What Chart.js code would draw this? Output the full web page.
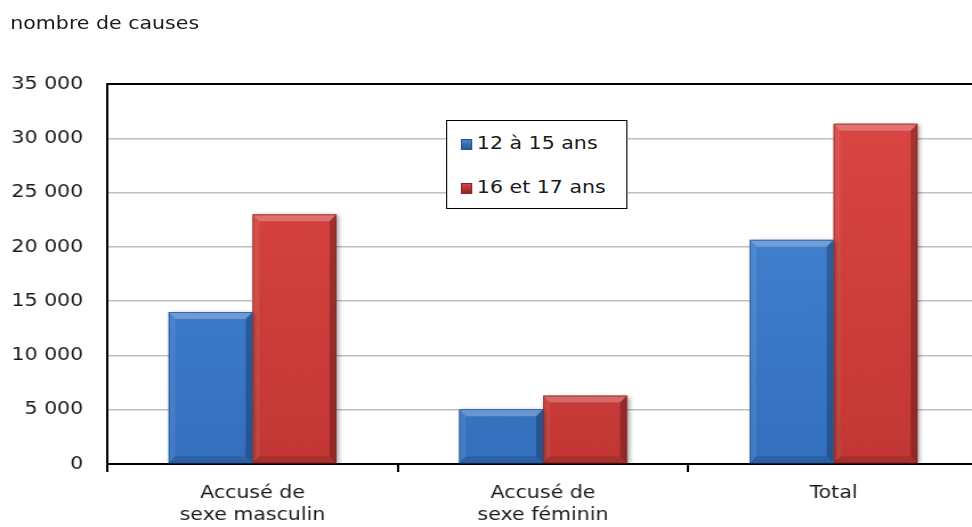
<!DOCTYPE html>
<html>
<head>
<meta charset="utf-8">
<script src="https://cdn.jsdelivr.net/npm/chart.js@4"></script>
<style>
  html, body { margin: 0; padding: 0; background: #fff; overflow: hidden; }
  #wrap {
    position: relative;
    width: 858px;
    height: 527px;
    transform: scaleX(1.1408);
    transform-origin: 0 0;
    font-family: "DejaVu Sans", Verdana, sans-serif;
    color: #1a1a1a;
  }
  #title { position: absolute; left: 9px; top: 12px; font-size: 18px; line-height: 22px; }
  #legend {
    position: absolute; left: 391px; top: 120px; width: 157px; height: 87px;
    border: 1.5px solid #000; background: #fff; font-size: 18px;
  }
  .item { position: absolute; left: 12px; height: 22px; line-height: 22px; white-space: nowrap; }
  .swatch { display: inline-block; width: 10px; height: 11px; margin-right: 4px; vertical-align: -1px; }
</style>
</head>
<body>
<div id="wrap">
  <canvas id="chart"></canvas>
  <div id="title">nombre de causes</div>
  <div id="legend"></div>
</div>
<script>
// data
const categories = [['Accusé de', 'sexe masculin'], ['Accusé de', 'sexe féminin'], 'Total'];
const seriesNames = ['12 à 15 ans', '16 et 17 ans'];
const ages12to15 = [14000, 5050, 20650];
const ages16to17 = [23000, 6300, 31350];
const yTicks = [0, 5000, 10000, 15000, 20000, 25000, 30000, 35000];

const blue = { top: '#4a8ad8', bottom: '#336fbd', edge: '#24528f' };
const red = { top: '#dc4744', bottom: '#c23734', edge: '#8a2222' };

function frenchNumber(v) {
  return String(v).replace(/\B(?=(\d{3})+(?!\d))/g, ' ');
}

function barFill(colors) {
  return (context) => {
    const area = context.chart.chartArea;
    if (!area) return colors.top;
    const g = context.chart.ctx.createLinearGradient(0, area.top, 0, area.bottom);
    g.addColorStop(0, colors.top);
    g.addColorStop(1, colors.bottom);
    return g;
  };
}

// draws the bevelled edges on each bar, from the bar elements' own geometry
const bevelPlugin = {
  id: 'bevel',
  beforeDatasetsDraw(chart) {
    const ctx = chart.ctx;
    ctx.save();
    ctx.shadowColor = 'rgba(0,0,0,0.35)';
    ctx.shadowBlur = 4;
    ctx.shadowOffsetX = 2;
    ctx.shadowOffsetY = 1;
  },
  afterDatasetsDraw(chart) {
    const ctx = chart.ctx;
    ctx.restore();
    chart.data.datasets.forEach((ds, i) => {
      chart.getDatasetMeta(i).data.forEach((bar) => {
        const l = bar.x - bar.width / 2, r = bar.x + bar.width / 2;
        const t = bar.y, b = bar.base;
        const bx = 6, by = Math.min(7, (b - t) / 2);
        const poly = (pts, fill) => {
          ctx.beginPath();
          ctx.moveTo(pts[0][0], pts[0][1]);
          pts.slice(1).forEach(p => ctx.lineTo(p[0], p[1]));
          ctx.closePath();
          ctx.fillStyle = fill;
          ctx.fill();
        };
        ctx.save();
        poly([[l, t], [r, t], [r - bx, t + by], [l + bx, t + by]], 'rgba(255,255,255,0.25)');
        poly([[l, t], [l + bx, t + by], [l + bx, b - by], [l, b]], 'rgba(255,255,255,0.08)');
        poly([[r, t], [r, b], [r - bx, b - by], [r - bx, t + by]], 'rgba(0,0,0,0.25)');
        poly([[l, b], [l + bx, b - by], [r - bx, b - by], [r, b]], 'rgba(0,0,0,0.12)');
        ctx.strokeStyle = ds.edgeColor;
        ctx.globalAlpha = 0.7;
        ctx.lineWidth = 1;
        ctx.strokeRect(l + 0.5, t + 0.5, r - l - 1, b - t - 1);
        ctx.restore();
      });
    });
  }
};

const fontMain = { family: 'DejaVu Sans', size: 18 };

new Chart(document.getElementById('chart').getContext('2d'), {
  type: 'bar',
  data: {
    labels: categories,
    datasets: [
      {
        label: seriesNames[0],
        data: ages12to15,
        backgroundColor: barFill(blue),
        edgeColor: blue.edge,
        borderWidth: 0,
        categoryPercentage: 0.578,
        barPercentage: 1
      },
      {
        label: seriesNames[1],
        data: ages16to17,
        backgroundColor: barFill(red),
        edgeColor: red.edge,
        borderWidth: 0,
        categoryPercentage: 0.578,
        barPercentage: 1
      }
    ]
  },
  options: {
    responsive: true,
    maintainAspectRatio: false,
    animation: false,
    layout: { padding: { top: 84, left: 0, right: 0, bottom: 0 } },
    plugins: {
      legend: { display: false },
      tooltip: { enabled: false }
    },
    scales: {
      x: {
        offset: true,
        grid: {
          offset: true,
          drawOnChartArea: false,
          drawTicks: true,
          tickLength: 8,
          color: '#000',
          lineWidth: 2
        },
        border: { color: '#000', width: 2 },
        ticks: { font: { ...fontMain, lineHeight: 1.2 }, color: '#1a1a1a', padding: 11, maxRotation: 0 },
        afterFit: (scale) => { scale.height = 63; }
      },
      y: {
        min: 0,
        max: 35000,
        afterBuildTicks: (scale) => { scale.ticks = yTicks.map(v => ({ value: v })); },
        grid: {
          drawTicks: false,
          color: (c) => c.tick && c.tick.value === 35000 ? '#000' : '#c0c0c0',
          lineWidth: (c) => c.tick && c.tick.value === 35000 ? 2 : 1.5
        },
        border: { color: '#000', width: 2 },
        ticks: {
          font: fontMain,
          color: '#1a1a1a',
          padding: 21,
          callback: (v) => frenchNumber(v)
        },
        afterFit: (scale) => { scale.width = 94; }
      }
    }
  },
  plugins: [bevelPlugin]
});

// legend box inside the plot, as in the picture
const legendColors = [blue, red];
const legendTops = [11, 55];
document.getElementById('legend').innerHTML = seriesNames.map((name, i) =>
  `<div class="item" style="top:${legendTops[i]}px"><span class="swatch" style="background:linear-gradient(${legendColors[i].top}, ${legendColors[i].edge});box-shadow:inset 0 0 0 1px ${legendColors[i].edge}"></span>${name}</div>`
).join('');
</script>
</body>
</html>
